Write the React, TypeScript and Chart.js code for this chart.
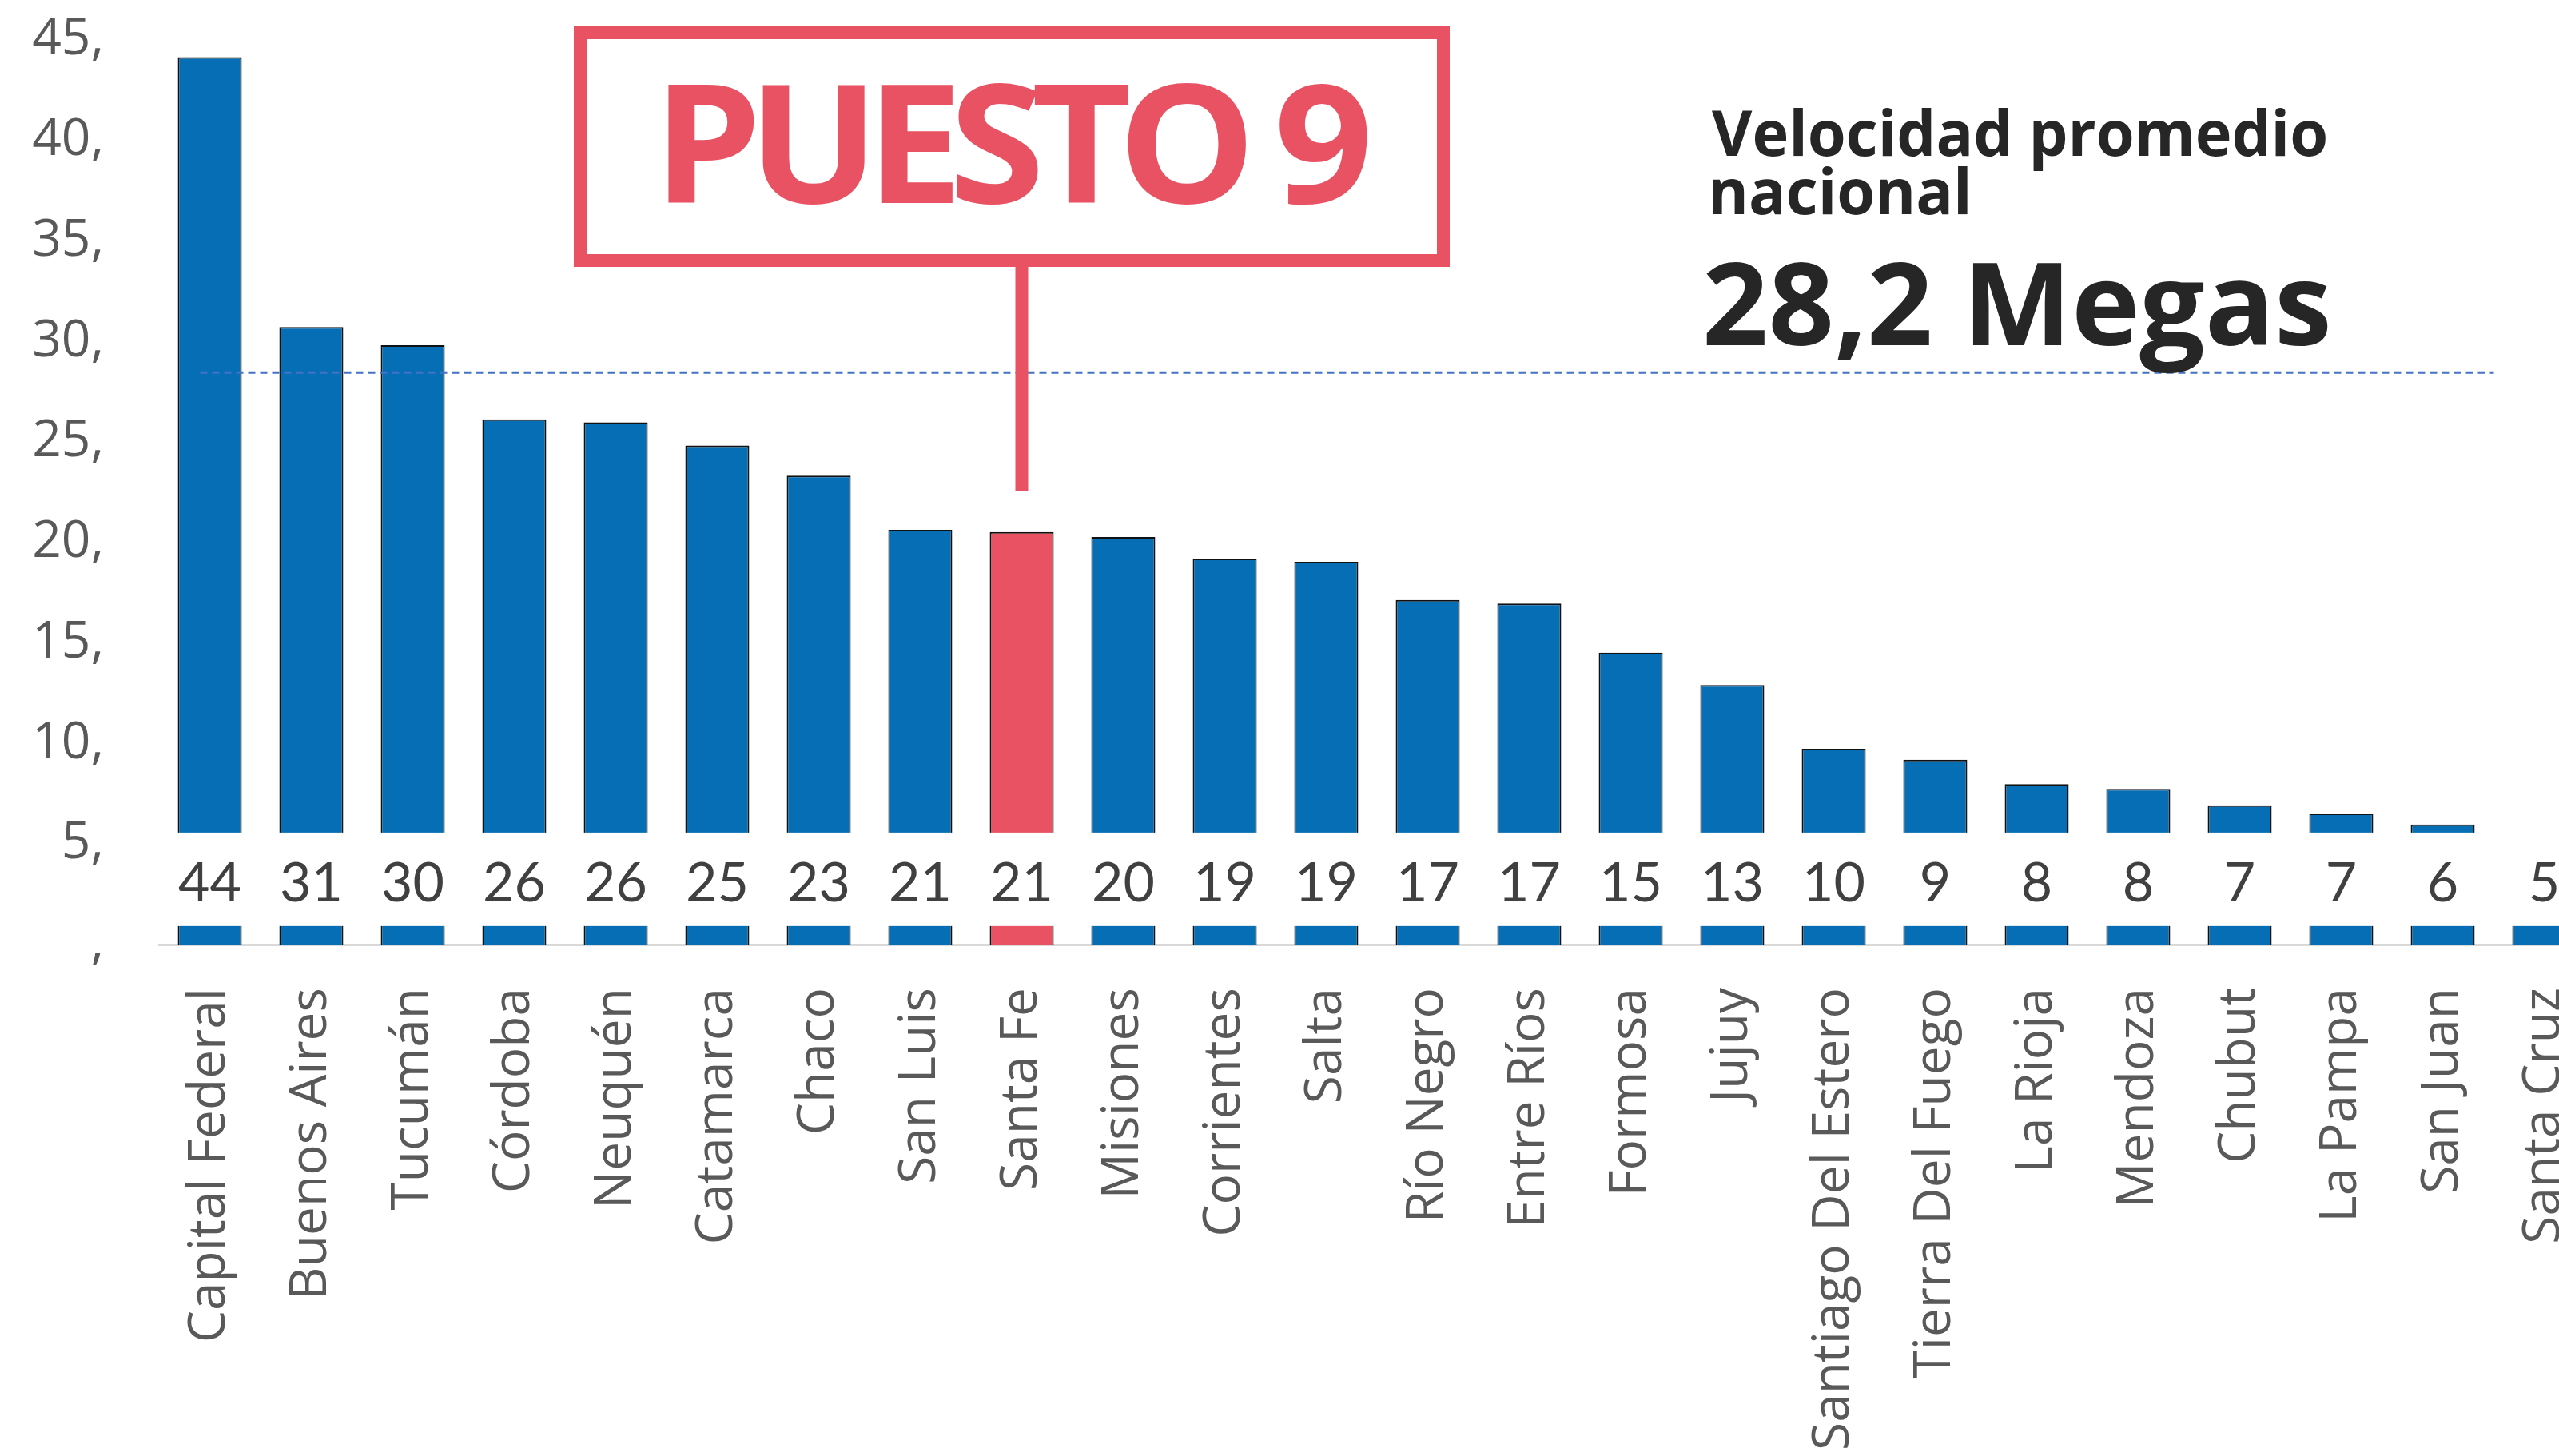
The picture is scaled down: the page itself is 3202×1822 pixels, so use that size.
import React, { useEffect, useRef } from "react";
import { Chart, registerables } from "chart.js";

Chart.register(...registerables);

// ---------- data ----------
const provinces = [
  "Capital Federal",
  "Buenos Aires",
  "Tucumán",
  "Córdoba",
  "Neuquén",
  "Catamarca",
  "Chaco",
  "San Luis",
  "Santa Fe",
  "Misiones",
  "Corrientes",
  "Salta",
  "Río Negro",
  "Entre Ríos",
  "Formosa",
  "Jujuy",
  "Santiago Del Estero",
  "Tierra Del Fuego",
  "La Rioja",
  "Mendoza",
  "Chubut",
  "La Pampa",
  "San Juan",
  "Santa Cruz",
];

const speeds = [
  44.15, 30.72, 29.81, 26.13, 25.98, 24.83, 23.32, 20.63, 20.52, 20.27, 19.2,
  19.04, 17.14, 16.96, 14.52, 12.91, 9.74, 9.19, 7.98, 7.74, 6.93, 6.52, 5.97,
  5.0,
];

const highlightIndex = 8; // Santa Fe
const yTickValues = [0, 5, 10, 15, 20, 25, 30, 35, 40, 45];
const averageLineValue = 28.45;
const rankText = "PUESTO 9";
const titleLines = ["Velocidad promedio", "nacional"];
const averageText = "28,2 Megas";

// axis-break band (values hidden behind the label strip)
const breakFrom = 0.92;
const breakTo = 5.57;
const labelBaselineValue = 2.15;

// ---------- styles ----------
const BLUE = "#066EB4";
const RED = "#E95262";
const W = 3247;
const H = 1822;

function drawFitted(
  ctx: CanvasRenderingContext2D,
  text: string,
  font: string,
  left: number,
  width: number | null,
  baseline: number,
  color: string,
  forcedScale?: number,
  spacing?: string
) {
  ctx.save();
  ctx.font = font;
  (ctx as any).letterSpacing = spacing ?? "0px";
  ctx.fillStyle = color;
  ctx.textAlign = "left";
  ctx.textBaseline = "alphabetic";
  const m = ctx.measureText(text);
  const ink = m.actualBoundingBoxLeft + m.actualBoundingBoxRight;
  const s = forcedScale ?? (width ? width / ink : 1);
  ctx.translate(left + m.actualBoundingBoxLeft * s, baseline);
  ctx.scale(s, 1);
  ctx.fillText(text, 0, 0);
  ctx.restore();
  return s;
}

const overlayPlugin = {
  id: "overlay",
  afterDatasetsDraw(chart: any) {
    const { ctx, chartArea } = chart;
    const x = chart.scales.x;
    const y = chart.scales.y;
    const meta = chart.getDatasetMeta(0);
    ctx.save();

    // white strip that breaks the bars
    const yTop = y.getPixelForValue(breakTo);
    const yBot = y.getPixelForValue(breakFrom);
    ctx.fillStyle = "#ffffff";
    ctx.fillRect(chartArea.left, yTop, chartArea.right - chartArea.left, yBot - yTop);

    // value labels
    ctx.font = "68px Lato";
    ctx.fillStyle = "#404040";
    ctx.textAlign = "center";
    ctx.textBaseline = "alphabetic";
    const ly = y.getPixelForValue(labelBaselineValue);
    meta.data.forEach((bar: any, i: number) => {
      ctx.fillText(String(Math.round(speeds[i])), bar.x, ly);
    });

    // national average dashed line
    const ay = y.getPixelForValue(averageLineValue);
    ctx.strokeStyle = "#4472C4";
    ctx.lineWidth = 3;
    ctx.setLineDash([9, 6]);
    ctx.beginPath();
    ctx.moveTo(x.getPixelForValue(0) - 12, ay);
    ctx.lineTo(x.getPixelForValue(22) + 64, ay);
    ctx.stroke();
    ctx.setLineDash([]);
    ctx.restore();
  },
  afterDraw(chart: any) {
    const { ctx } = chart;
    const meta = chart.getDatasetMeta(0);
    const hb = meta.data[highlightIndex];
    ctx.save();

    // rank box
    ctx.strokeStyle = RED;
    ctx.lineWidth = 16;
    ctx.strokeRect(726, 41, 1080, 285);
    // connector to highlighted bar
    ctx.fillStyle = RED;
    ctx.fillRect(hb.x - 8, 318, 16, 614 - 318);

    drawFitted(ctx, rankText, 'bold 206px "Open Sans"', 836, 875, 254, RED, undefined, "-16px");

    // title
    const s = drawFitted(ctx, titleLines[0], 'bold 78px "Open Sans"', 2142, 768, 195, "#262626");
    drawFitted(ctx, titleLines[1], 'bold 78px "Open Sans"', 2143, null, 268, "#262626", s);
    drawFitted(ctx, averageText, 'bold 144px "Open Sans"', 2135, 778, 432, "#262626");
    ctx.restore();
  },
};

export default function App() {
  const canvasRef = useRef<HTMLCanvasElement | null>(null);

  useEffect(() => {
    const canvas = canvasRef.current;
    if (!canvas) return;
    const chart = new Chart(canvas, {
      type: "bar",
      data: {
        labels: provinces,
        datasets: [
          {
            data: speeds,
            backgroundColor: speeds.map((_, i) => (i === highlightIndex ? RED : BLUE)),
            borderColor: "#111111",
            borderWidth: 2,
            borderSkipped: "start",
            barPercentage: 0.63,
            categoryPercentage: 1,
          },
        ],
      },
      options: {
        responsive: false,
        maintainAspectRatio: false,
        animation: false,
        devicePixelRatio: 1,
        layout: { padding: { top: 50, left: 0, right: 0, bottom: 0 } },
        plugins: {
          legend: { display: false },
          tooltip: { enabled: false },
          title: { display: false },
        },
        scales: {
          x: {
            type: "category",
            grid: { display: false, drawTicks: false },
            border: { display: true, color: "#D9D9D9", width: 3 },
            ticks: {
              autoSkip: false,
              maxRotation: 90,
              minRotation: 90,
              padding: 54,
              color: "#595959",
              font: { family: "Open Sans", size: 64 },
            },
            afterFit: (scale: any) => {
              scale.height = 640;
              scale.paddingLeft = 0;
              scale.paddingRight = 0;
            },
          },
          y: {
            min: 0,
            max: 45,
            afterBuildTicks: (scale: any) => {
              scale.ticks = yTickValues.map((v) => ({ value: v }));
            },
            grid: { display: false, drawTicks: false },
            border: { display: false },
            ticks: {
              padding: 69,
              color: "#595959",
              font: { family: "Open Sans", size: 64 },
              callback: (v: any) => (Number(v) === 0 ? "," : `${v},`),
            },
            afterFit: (scale: any) => {
              scale.width = 199;
              scale.paddingTop = 0;
              scale.paddingBottom = 0;
            },
          },
        },
      },
      plugins: [overlayPlugin],
    });
    return () => chart.destroy();
  }, []);

  return (
    <div
      style={{
        position: "fixed",
        left: 0,
        top: 0,
        width: 3202,
        height: 1822,
        overflow: "hidden",
        background: "#ffffff",
      }}
    >
      <canvas ref={canvasRef} width={W} height={H} style={{ display: "block", width: W, height: H }} />
    </div>
  );
}
